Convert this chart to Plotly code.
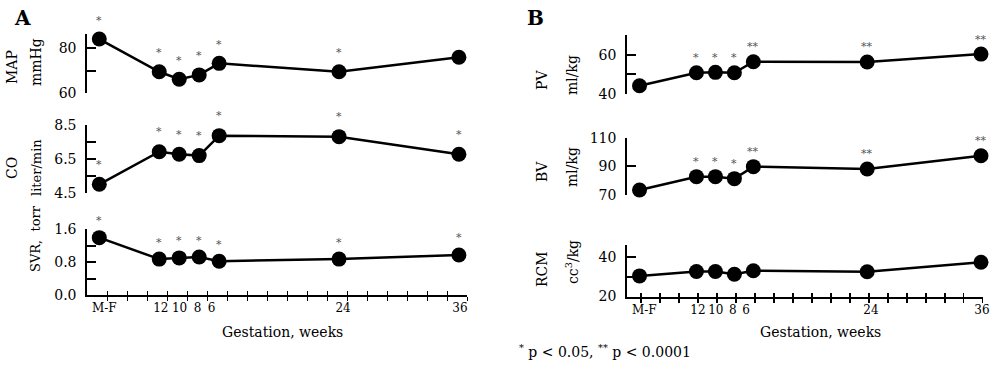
import plotly.graph_objects as go

# ---------------- data ----------------
weeks = ["M-F", "12", "10", "8", "6", "24", "36"]
x_pos = [0, 3, 4, 5, 6, 12, 18]          # position of each visit along the time axis
label_pos = [0.25, 3.08, 4.02, 4.92, 5.62, 12.2, 18.05]

map_vals = [83.9, 69.5, 66.2, 68.1, 73.2, 69.5, 75.9]
co_vals = [5.01, 6.92, 6.77, 6.69, 7.86, 7.80, 6.77]
svr_vals = [1.39, 0.87, 0.90, 0.92, 0.82, 0.87, 0.97]
pv_vals = [44.2, 50.8, 51.0, 50.8, 56.4, 56.3, 60.3]
bv_vals = [73.5, 82.8, 82.8, 81.4, 89.8, 88.2, 97.4]
rcm_vals = [30.4, 32.6, 32.6, 31.2, 33.0, 32.5, 37.3]

map_sig = ["*", "*", "*", "*", "*", "*", ""]
co_sig = ["*", "*", "*", "*", "*", "*", "*"]
svr_sig = ["*", "*", "*", "*", "*", "*", "*"]
pv_sig = ["", "*", "*", "*", "**", "**", "**"]
bv_sig = ["", "*", "*", "*", "**", "**", "**"]
rcm_sig = ["", "", "", "", "", "", ""]

# y tick labels and unlabeled tick marks
map_ticks, map_marks = [60, 80], [60, 70, 80]
co_ticks, co_marks = [4.5, 6.5, 8.5], [4.5, 5.5, 6.5, 7.5, 8.5]
svr_ticks, svr_marks = [0, 0.8, 1.6], [0, 0.4, 0.8, 1.2, 1.6]
pv_ticks, pv_marks = [40, 60], [40, 50, 60, 70]
bv_ticks, bv_marks = [70, 90, 110], [70, 90, 110]
rcm_ticks, rcm_marks = [20, 40], [20, 30, 40, 46]

FONT = "DejaVu Serif"
W, H = 1000, 380


def fx(px):
    return px / W


def fy(py):
    return 1 - py / H


def ydom(top_px, bot_px):
    return [fy(bot_px), fy(top_px)]


LX = [fx(87.3), fx(467.3)]
RX = [fx(627.2), fx(982.7)]

panels = [
    dict(n=1, v=map_vals, s=map_sig, xd=LX, xr=[-0.6, 18.42], yd=ydom(34.3, 93.3),
         yr=[60, 86], tv=map_ticks, mk=map_marks, fmt="%d", t0=0.42, sh=19),
    dict(n=2, v=co_vals, s=co_sig, xd=LX, xr=[-0.6, 18.42], yd=ydom(124.7, 193),
         yr=[4.5, 8.5], tv=co_ticks, mk=co_marks, fmt="%.1f", t0=0.42, sh=20),
    dict(n=3, v=svr_vals, s=svr_sig, xd=LX, xr=[-0.6, 18.42], yd=ydom(229, 295),
         yr=[0, 1.6], tv=svr_ticks, mk=svr_marks, fmt="%.1f", t0=0.42, sh=17),
    dict(n=4, v=pv_vals, s=pv_sig, xd=RX, xr=[-0.65, 18.09], yd=ydom(35, 94),
         yr=[40, 70], tv=pv_ticks, mk=pv_marks, fmt="%d", t0=0.09, sh=15),
    dict(n=5, v=bv_vals, s=bv_sig, xd=RX, xr=[-0.65, 18.09], yd=ydom(137.7, 195),
         yr=[70, 110], tv=bv_ticks, mk=bv_marks, fmt="%d", t0=0.09, sh=15),
    dict(n=6, v=rcm_vals, s=rcm_sig, xd=RX, xr=[-0.65, 18.09], yd=ydom(245, 296.5),
         yr=[20, 46], tv=rcm_ticks, mk=rcm_marks, fmt="%d", t0=0.09, sh=15),
]

fig = go.Figure()
annotations = []
layout = {}

for p in panels:
    n = p["n"]
    xs = "" if n == 1 else str(n)
    fig.add_trace(go.Scatter(
        x=x_pos, y=p["v"], mode="lines+markers",
        line=dict(color="black", width=2.5),
        marker=dict(color="black", size=15),
        xaxis="x" + xs, yaxis="y" + xs, showlegend=False, hoverinfo="skip",
        cliponaxis=False))
    bottom = n in (3, 6)
    xa = dict(domain=p["xd"], range=p["xr"], anchor="y" + xs, showgrid=False, zeroline=False,
              fixedrange=True, automargin=False)
    if bottom:
        ticks_i = [p["t0"] + i for i in range(19)]
        xa.update(showline=True, linecolor="black", linewidth=2,
                  tickmode="array", tickvals=label_pos, ticktext=weeks, tickangle=0,
                  ticks="outside", ticklen=1, tickcolor="rgba(0,0,0,0)",
                  tickfont=dict(family=FONT, size=12, color="black"),
                  minor=dict(tickmode="array", tickvals=ticks_i, ticks="outside",
                             ticklen=4, tickwidth=1.5, tickcolor="black", showgrid=False))
        on = 7 if n == 3 else 8
        layout["xaxis%d" % on] = dict(overlaying="x" + xs, anchor="y" + xs, range=p["xr"],
                                      showline=False, showgrid=False, zeroline=False,
                                      tickmode="array", tickvals=ticks_i, ticks="inside",
                                      ticklen=4, tickwidth=1.5, tickcolor="black",
                                      showticklabels=False, fixedrange=True, automargin=False)
        fig.add_trace(go.Scatter(x=[], y=[], xaxis="x%d" % on, yaxis="y" + xs,
                                 showlegend=False, hoverinfo="skip"))
    else:
        xa.update(visible=False)
    layout["xaxis" + xs] = xa
    layout["yaxis" + xs] = dict(domain=p["yd"], range=p["yr"], anchor="x" + xs,
                                showline=True, linecolor="black", linewidth=2,
                                showgrid=False, zeroline=False,
                                tickmode="array", tickvals=p["tv"],
                                ticktext=[p["fmt"] % t for t in p["tv"]],
                                ticks="inside", ticklen=9, tickwidth=2, tickcolor="black",
                                minor=dict(tickmode="array", tickvals=p["mk"], ticks="inside",
                                           ticklen=9, tickwidth=2, tickcolor="black",
                                           showgrid=False),
                                ticklabelstandoff=6, automargin=False,
                                tickfont=dict(family=FONT, size=14, color="black"),
                                fixedrange=True)
    for xv, yv, s in zip(x_pos, p["v"], p["s"]):
        if s:
            annotations.append(dict(x=xv, y=yv, xref="x" + xs, yref="y" + xs, text=s,
                                    showarrow=False, yshift=p["sh"],
                                    font=dict(family=FONT, size=11, color="#555555")))


def vtext(x_px, y_px, text, size=13):
    annotations.append(dict(x=fx(x_px), y=fy(y_px), xref="paper", yref="paper",
                            text=text, textangle=-90, showarrow=False,
                            font=dict(family=FONT, size=size, color="black"),
                            xanchor="center", yanchor="middle"))


vtext(12, 67, "MAP", 14)
vtext(36, 62, "mmHg", 14)
vtext(12, 168, "CO", 14)
vtext(36, 168, "liter/min")
vtext(36, 239, "SVR,  torr")
vtext(542, 80, "PV", 14)
vtext(572, 75, "ml/kg", 14)
vtext(542, 172, "BV", 14)
vtext(572, 167, "ml/kg", 14)
vtext(542, 269, "RCM", 14)
vtext(572, 262, "cc<sup>3</sup>/kg", 14)

for x_px, txt in [(22, "A"), (535, "B")]:
    annotations.append(dict(x=fx(x_px), y=fy(18), xref="paper", yref="paper",
                            text="<b>%s</b>" % txt, showarrow=False,
                            font=dict(family=FONT, size=20, color="black"),
                            xanchor="center", yanchor="middle"))

for x_px in (282, 820):
    annotations.append(dict(x=fx(x_px), y=fy(332), xref="paper", yref="paper",
                            text="Gestation, weeks", showarrow=False,
                            font=dict(family=FONT, size=14, color="black"),
                            xanchor="center", yanchor="middle"))

annotations.append(dict(x=fx(517), y=fy(351), xref="paper", yref="paper",
                        text="<sup>*</sup> p &lt; 0.05, <sup>**</sup> p &lt; 0.0001", showarrow=False,
                        font=dict(family=FONT, size=14, color="black"),
                        xanchor="left", yanchor="middle"))

fig.update_layout(**layout)
fig.update_layout(width=W, height=H, margin=dict(l=0, r=0, t=0, b=0, autoexpand=False),
                  paper_bgcolor="white", plot_bgcolor="white",
                  annotations=annotations, showlegend=False,
                  font=dict(family=FONT, size=14, color="black"))

# remove the default page margin so the 1000x380 figure fills the window exactly
fig.write_html("out.html", config={"displayModeBar": False, "staticPlot": True},
               post_script="document.body.style.margin='0px';document.body.style.overflow='hidden';")
